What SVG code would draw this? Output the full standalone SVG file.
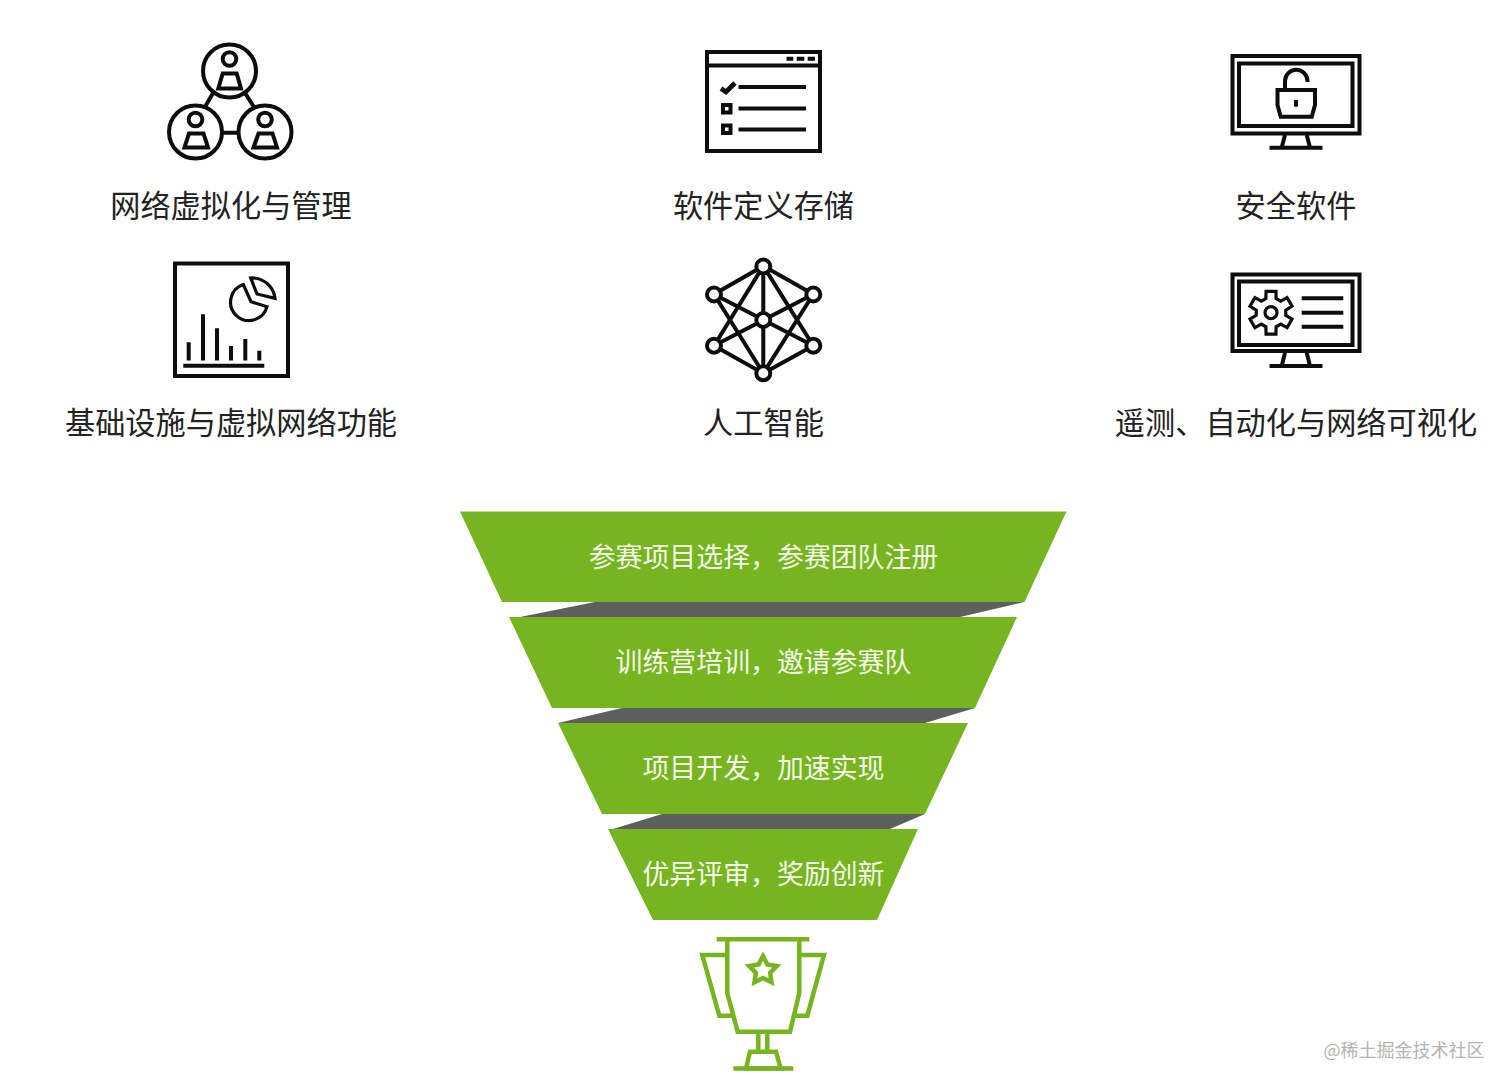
<svg xmlns="http://www.w3.org/2000/svg" width="1512" height="1090" viewBox="0 0 1512 1090">
<style>
text{font-family:"Noto Sans CJK SC","Noto Sans",sans-serif;text-anchor:middle}
.lab{font-size:30.200px;fill:#222}
.ft{font-size:26.900px;fill:#f4f9ea}
.ic{fill:none;stroke:#0d0d0d;stroke-width:4}
.ic2{fill:#fff;stroke:#0d0d0d;stroke-width:4}
.g{fill:#76b520}
.d{fill:#5f5f5f}
.tr{fill:none;stroke:#76b520;stroke-width:4.500}
</style>
<rect width="1512" height="1090" fill="#fff"/>
<g id="n-network">
<g class="ic">
<path d="M213 93L205 107M245 93L254 107M220 132.700H240"/>
<circle cx="229.500" cy="71" r="26.500"/><circle cx="195.500" cy="132" r="26.500"/><circle cx="265" cy="132" r="26.500"/>
<circle cx="229.500" cy="59" r="6.800"/><path d="M222.700 73.500H236.700L241 88.500H218.300Z"/>
<circle cx="195.500" cy="119.500" r="6.800"/><path d="M189 133.500H203.500L208 147.500H184.500Z"/>
<circle cx="265" cy="119.500" r="6.800"/><path d="M258.500 133.500H272.500L277 147.500H253.500Z"/>
</g>
<text class="lab" x="231" y="217">网络虚拟化与管理</text>
</g>
<g id="n-storage">
<g class="ic">
<rect x="707" y="52" width="113" height="99"/>
<path d="M707 65.500H820"/>
<path d="M721 88.500L726 92L735 83" stroke-width="4.800"/>
<path d="M738.500 87H806M738.500 108.500H806M738.500 129.500H806"/>
<rect x="723" y="105" width="7.500" height="7.500"/><rect x="723" y="125.500" width="7.500" height="7.500"/>
<path d="M786.500 58.700H793.300M796.700 58.700H804.300M807.700 58.700H815"/>
</g>
<text class="lab" x="763.500" y="217">软件定义存储</text>
</g>
<g id="n-security">
<g class="ic">
<rect x="1232.500" y="56" width="127" height="77.500"/>
<rect x="1239" y="63.500" width="113.500" height="62.500"/>
<path d="M1285 135L1281.700 147.500M1306.700 135L1310 147.500M1269.500 147.700H1322.500"/>
<path d="M1277.500 90H1315V105L1311.700 116.700H1280.700L1277.500 105Z"/>
<path d="M1285 90V81A11.200 11.200 0 0 1 1307.500 81V82"/>
<path d="M1296 100V106.700"/>
</g>
<text class="lab" x="1296" y="217">安全软件</text>
</g>
<g id="n-infra">
<g class="ic">
<rect x="175" y="263.500" width="113" height="112.500"/>
<path d="M188.700 342.300V360.500M203 314.300V360.500M217 328.300V360.500M231 346V360.500M245.300 339V360.500M259.300 350.700V360.500M183.300 365.700H264.300"/>
<path d="M243.300 284.500A18.500 18.500 0 1 0 267 306.700L251 301.700Z" stroke-width="3.200"/>
<path d="M250.700 278A23 23 0 0 1 275 298.300L257 294Z" stroke-width="3.200"/>
</g>
<text class="lab" x="231" y="434">基础设施与虚拟网络功能</text>
</g>
<g id="n-ai">
<g class="ic">
<path d="M763.300 266L714 294.300M763.300 266L813.300 294.300M763.300 266V373.300M763.300 266L714 345.700M763.300 266L813.300 345.700M763.300 373.300L714 345.700M763.300 373.300L813.300 345.700M763.300 373.300L714 294.300M763.300 373.300L813.300 294.300M714 294.300L813.300 345.700M813.300 294.300L714 345.700"/>
</g>
<g class="ic2">
<circle cx="763.300" cy="266.500" r="7"/><circle cx="714" cy="294.500" r="7"/><circle cx="813.300" cy="294.500" r="7"/><circle cx="763.300" cy="320" r="7"/><circle cx="714" cy="345.700" r="7"/><circle cx="813.300" cy="345.700" r="7"/><circle cx="763.300" cy="373.300" r="7"/>
</g>
<text class="lab" x="763.500" y="434">人工智能</text>
</g>
<g id="n-telemetry">
<g class="ic">
<rect x="1232.500" y="274.500" width="127" height="76.500"/>
<rect x="1239" y="281.500" width="113.500" height="63.500"/>
<path d="M1285 352.700L1281.700 366M1306.700 352.700L1310 366M1269.500 366H1322.500"/>
<path d="M1301.700 298.300H1343.300M1301.700 312.700H1343.300M1301.700 326.700H1343.300"/>
<path transform="translate(1271 312.700)" stroke-width="3.200" d="M-5.130 -14.100L-4.950 -21.400L4.950 -21.400L5.130 -14.100L9.640 -11.490L16.090 -15L21.040 -6.430L14.770 -2.600L14.770 2.600L21.040 6.430L16.090 15L9.640 11.490L5.130 14.100L4.950 21.400L-4.950 21.400L-5.130 14.100L-9.640 11.490L-16.090 15L-21.040 6.430L-14.770 2.600L-14.770 -2.600L-21.040 -6.430L-16.090 -15L-9.640 -11.490Z"/>
<circle cx="1271" cy="312.700" r="6" stroke-width="3.200"/>
</g>
<text class="lab" x="1296" y="434">遥测、自动化与网络可视化</text>
</g>
<g id="connectors">
<polygon class="d" points="595,602 1024,602 960,617 520,617"/>
<polygon class="d" points="622,708 975,708 925,723 558,723"/>
<polygon class="d" points="662,814 925,814 890,829 613,829"/>
</g>
<g id="n-tier1">
<polygon class="g" points="460,511.500 1066.500,511.500 1024.500,602 502,602"/>
<text class="ft" x="763.500" y="566.500">参赛项目选择，参赛团队注册</text>
</g>
<g id="n-tier2">
<polygon class="g" points="509,617 1017,617 975,708 552,708"/>
<text class="ft" x="763.500" y="672">训练营培训，邀请参赛队</text>
</g>
<g id="n-tier3">
<polygon class="g" points="558,723 968,723 925,814 602,814"/>
<text class="ft" x="763.500" y="778">项目开发，加速实现</text>
</g>
<g id="n-tier4">
<polygon class="g" points="608,829 918,829 877,920 653,920"/>
<text class="ft" x="763.500" y="884">优异评审，奖励创新</text>
</g>
<g id="n-trophy" class="tr">
<path d="M716.700 939.300H809.300"/>
<path d="M727.300 939.300V993.300L737.700 1031.700H790L799.300 993.300V939.300"/>
<path d="M727 955H702.300L719.300 1015.700H732.700M799.300 955H824L807.300 1015.700H794"/>
<polygon transform="translate(763 970.500)" points="0,-14.500 4.400,-6.070 13.800,-4.480 7.130,2.320 8.520,11.730 0,7.500 -8.520,11.730 -7.130,2.320 -13.800,-4.480 -4.400,-6.070"/>
<path d="M758.300 1031.700V1051.700M767.300 1031.700V1051.700"/>
<path d="M750 1051.700H776L780.700 1068.500H746Z"/>
<path d="M733.300 1068.500H793.300"/>
</g>
<g id="watermark">
<text x="1404" y="1057" font-size="18" fill="#b4b4b4">@稀土掘金技术社区</text>
</g>
</svg>
